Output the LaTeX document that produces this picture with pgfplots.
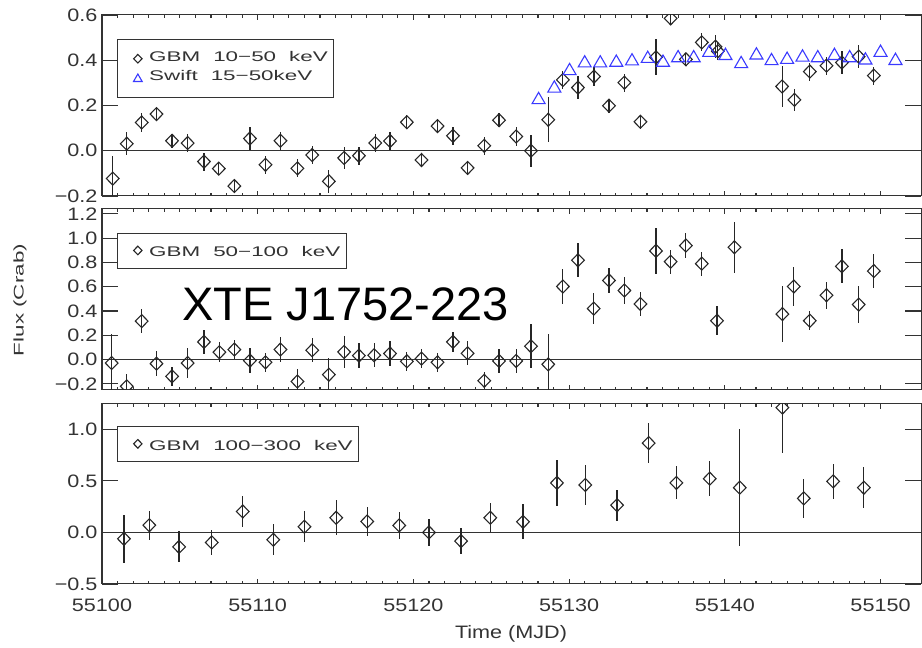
\documentclass[border=0pt]{standalone}
\usepackage{fontspec}
\setmainfont{Liberation Sans}[FakeStretch=1.2]
\newfontfamily\titlefont{Liberation Sans}
\newfontfamily\legfont{Liberation Sans}[FakeStretch=1.6]
\usepackage{pgfplots}
\pgfplotsset{compat=1.18}
\definecolor{axgray}{HTML}{333333}
\definecolor{swiftblue}{HTML}{3A3AFF}

\pgfplotsset{
 panel/.style={
  scale only axis, width=819pt, xmin=55100, xmax=55152.6,
  scaled x ticks=false,
  axis line style={axgray, line width=1pt},
  tick align=inside, tick pos=both,
  ticklabel style={font=\fontsize{18}{20}\selectfont, text=axgray},
  yticklabel style={xshift=-1pt},
  xticklabel style={yshift=-11pt},
  clip marker paths=true,
  legend cell align=left,
  legend style={anchor=north west, draw=axgray, line width=0.8pt,
    font=\legfont\fontsize{14}{16}\selectfont, text=axgray,
    inner xsep=6pt, inner ysep=11.4pt, row sep=4pt, column sep=7pt,
    nodes={inner sep=0pt, text height=10pt, text depth=5.3pt}},
 },
 xax/.style={panel, ytick=\empty,
  xtick={55100,55110,55120,55130,55140,55150}, minor x tick num=9,
  major tick length=5pt, minor tick length=3pt,
  xtick style={axgray, line width=1.1pt}},
 yax/.style={panel, xtick=\empty, minor x tick num=0,
  major tick length=16pt, ytick style={axgray, line width=1.1pt}},
 yt/.style={forget plot, color=axgray, line width=0.9pt, mark=none},
 gbm/.style={only marks, mark=diamond, mark size=6.5pt, color=black!85,
   mark options={xscale=1.3, line width=1.1pt, fill=none},
   legend image code/.code={\draw[##1,mark size=4.3pt] plot coordinates {(0pt,0pt)}; \path (-14.3pt,0pt) (4pt,0pt);},
   error bars/.cd, y dir=both, y explicit, error mark=none,
   error bar style={line width=1.2pt, black!85}},
 swift/.style={only marks, mark=triangle, mark size=7.5pt, color=swiftblue,
   mark options={line width=1.1pt, fill=none},
   legend image code/.code={\draw[##1,mark size=5pt] plot coordinates {(0pt,-1pt)}; \path (-14.3pt,0pt) (4pt,0pt);}},
}
\newcommand{\dsp}{\hspace{13pt}}

\pgfplotstableread{
x y e
55100.69 -0.123 0.10
55101.59 0.031 0.05
55102.55 0.125 0.04
55103.50 0.162 0.03
55104.50 0.044 0.03
55105.50 0.034 0.04
55106.55 -0.048 0.04
55107.50 -0.079 0.03
55108.50 -0.156 0.03
55109.50 0.054 0.05
55110.50 -0.062 0.04
55111.46 0.044 0.04
55112.55 -0.078 0.04
55113.50 -0.019 0.04
55114.57 -0.135 0.05
55115.55 -0.032 0.05
55116.50 -0.022 0.04
55117.55 0.034 0.04
55118.50 0.043 0.04
55119.58 0.126 0.03
55120.52 -0.041 0.03
55121.55 0.109 0.03
55122.54 0.066 0.04
55123.48 -0.076 0.03
55124.55 0.022 0.04
55125.50 0.135 0.03
55126.60 0.063 0.04
55127.55 0.000 0.07
55128.66 0.137 0.10
55129.60 0.313 0.04
55130.57 0.279 0.05
55131.60 0.328 0.04
55132.56 0.199 0.03
55133.55 0.301 0.04
55134.58 0.128 0.03
55135.58 0.413 0.08
55136.52 0.585 0.03
55137.50 0.404 0.03
55138.52 0.479 0.04
55139.40 0.460 0.05
55139.55 0.440 0.04
55143.68 0.284 0.09
55144.47 0.225 0.05
55145.46 0.350 0.04
55146.53 0.376 0.04
55147.52 0.390 0.05
55148.60 0.416 0.05
55149.57 0.332 0.04
}\gbmlow

\pgfplotstableread{
x y
55128.04 0.225
55129.05 0.276
55130.03 0.353
55131.00 0.387
55132.00 0.387
55133.03 0.390
55134.04 0.396
55135.05 0.407
55136.03 0.390
55137.00 0.410
55138.00 0.410
55139.00 0.434
55140.04 0.420
55141.05 0.384
55142.03 0.422
55143.00 0.397
55144.00 0.403
55144.99 0.413
55145.97 0.410
55147.04 0.420
55148.02 0.410
55149.03 0.400
55150.00 0.434
55150.96 0.398
}\swift

\pgfplotstableread{
x y e
55100.62 -0.028 0.24
55101.59 -0.220 0.10
55102.55 0.317 0.10
55103.50 -0.033 0.10
55104.50 -0.138 0.08
55105.50 -0.028 0.12
55106.55 0.146 0.10
55107.54 0.061 0.08
55108.50 0.083 0.08
55109.50 -0.008 0.10
55110.50 -0.022 0.08
55111.46 0.083 0.10
55112.55 -0.180 0.10
55113.50 0.077 0.10
55114.57 -0.124 0.14
55115.55 0.063 0.13
55116.50 0.033 0.10
55117.48 0.036 0.10
55118.50 0.050 0.10
55119.58 -0.014 0.08
55120.52 0.008 0.08
55121.55 -0.022 0.08
55122.54 0.146 0.08
55123.48 0.052 0.10
55124.55 -0.174 0.07
55125.50 -0.011 0.10
55126.60 -0.011 0.10
55127.55 0.110 0.18
55128.66 -0.039 0.25
55129.60 0.602 0.14
55130.57 0.818 0.14
55131.58 0.420 0.13
55132.56 0.652 0.10
55133.55 0.569 0.11
55134.58 0.458 0.10
55135.58 0.895 0.19
55136.52 0.806 0.10
55137.50 0.939 0.10
55138.52 0.790 0.10
55139.50 0.320 0.12
55140.62 0.925 0.21
55143.70 0.375 0.23
55144.43 0.602 0.16
55145.46 0.320 0.08
55146.53 0.530 0.11
55147.52 0.768 0.14
55148.60 0.453 0.15
55149.57 0.729 0.14
}\gbmmid

\pgfplotstableread{
x y e
55101.41 -0.062 0.23
55103.04 0.070 0.14
55104.95 -0.140 0.15
55107.05 -0.097 0.12
55109.04 0.203 0.15
55111.00 -0.071 0.15
55113.00 0.055 0.15
55115.04 0.142 0.17
55117.03 0.106 0.14
55119.09 0.068 0.13
55121.00 0.000 0.13
55123.06 -0.084 0.13
55124.94 0.142 0.14
55127.04 0.103 0.17
55129.22 0.480 0.22
55131.04 0.460 0.19
55133.08 0.264 0.15
55135.11 0.866 0.19
55136.89 0.480 0.16
55139.03 0.521 0.17
55140.96 0.434 0.57
55143.70 1.210 0.44
55145.07 0.330 0.19
55146.96 0.495 0.17
55148.93 0.434 0.20
}\gbmhigh

\begin{document}
\begin{tikzpicture}
\useasboundingbox (0pt,0pt) rectangle (922pt,648pt);

% top panel: x ticks
\begin{axis}[xax, at={(102pt,452pt)}, anchor=south west, height=181pt,
  ymin=-0.2, ymax=0.6, xticklabels={}]
\end{axis}
% top panel: y ticks and data
\begin{axis}[yax, at={(102pt,452pt)}, anchor=south west, height=181pt,
  ymin=-0.2, ymax=0.6, ytick={-0.2,0,0.2,0.4,0.6},
  yticklabels={−0.2,0.0,0.2,0.4,0.6},
  legend style={at={(0.018,0.866)}}]
\addplot[yt] coordinates {(55100,0) (55152.6,0)};
\addplot[gbm] table[x=x, y=y, y error=e] {\gbmlow};
\addlegendentry{GBM\dsp 10−50\dsp keV}
\addplot[swift] table[x=x, y=y] {\swift};
\addlegendentry{Swift\dsp 15−50keV}
\end{axis}

% middle panel
\begin{axis}[xax, at={(102pt,258pt)}, anchor=south west, height=181pt,
  ymin=-0.25, ymax=1.24, xticklabels={}]
\end{axis}
\begin{axis}[yax, at={(102pt,258pt)}, anchor=south west, height=181pt,
  ymin=-0.25, ymax=1.24, ytick={-0.2,0,0.2,0.4,0.6,0.8,1.0,1.2},
  yticklabels={−0.2,0.0,0.2,0.4,0.6,0.8,1.0,1.2},
  legend style={at={(0.018,0.870)}, inner ysep=11pt,
    nodes={inner sep=0pt, text height=13pt, text depth=0pt}}]
\addplot[yt] coordinates {(55100,0) (55152.6,0)};
\addplot[gbm] table[x=x, y=y, y error=e] {\gbmmid};
\addlegendentry{GBM\dsp 50−100\dsp keV}
\end{axis}

% bottom panel
\begin{axis}[xax, at={(102pt,64pt)}, anchor=south west, height=180pt,
  ymin=-0.5, ymax=1.245,
  xticklabels={55100,55110,55120,55130,55140,55150}]
\end{axis}
\begin{axis}[yax, at={(102pt,64pt)}, anchor=south west, height=180pt,
  ymin=-0.5, ymax=1.245, ytick={-0.5,0,0.5,1.0},
  yticklabels={−0.5,0.0,0.5,1.0},
  legend style={at={(0.018,0.878)}, inner ysep=11pt,
    nodes={inner sep=0pt, text height=13pt, text depth=0pt}}]
\addplot[yt] coordinates {(55100,0) (55152.6,0)};
\addplot[gbm] table[x=x, y=y, y error=e] {\gbmhigh};
\addlegendentry{GBM\dsp 100−300\dsp keV}
\end{axis}

\node[rotate=90, font=\legfont\fontsize{14}{16}\selectfont, text=axgray] at (20pt,348pt) {Flux (Crab)};
\node[anchor=base, font=\fontsize{18}{20}\selectfont, text=axgray] at (511pt,9pt) {Time (MJD)};
\node[anchor=base west, inner sep=0pt, font=\titlefont\fontsize{47}{50}\selectfont] at (182pt,327pt) {XTE J1752-223};
\end{tikzpicture}
\end{document}
